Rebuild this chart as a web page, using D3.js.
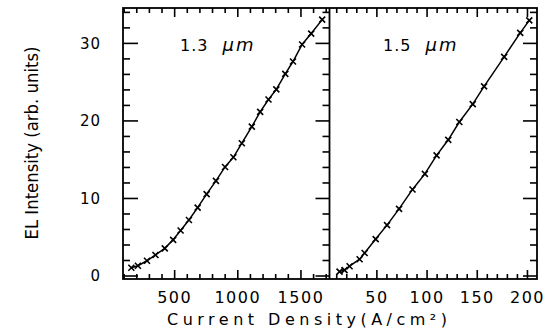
<!DOCTYPE html>
<html><head><meta charset="utf-8">
<script src="https://cdn.jsdelivr.net/npm/d3@7/dist/d3.min.js"></script>
<style>
html,body{margin:0;padding:0;background:#fff;}
svg{display:block;}
.tick text{font-family:"DejaVu Sans",sans-serif;fill:#000;}
</style></head>
<body>
<svg id="c" width="554" height="333"></svg>
<script>
// 1.3 µm panel: current density (A/cm²) vs EL intensity
const jL = [161,213,285,352,426,492,551,617,686,757,831,903,969,1036,1115,1181,1247,1309,1380,1441,1513,1585,1672];
const iL = [1.0,1.26,1.9,2.65,3.5,4.6,5.8,7.16,8.75,10.5,12.2,14.0,15.25,17.06,19.2,21.1,22.7,24.0,26.0,27.6,29.8,31.2,33.0];
// 1.5 µm panel
const jR = [13.3,18.3,23.3,33.3,38.3,49.3,60.6,72.6,86,98.3,110,121.6,132.6,146,157.3,177.3,193.3,202.3];
const iR = [0.5,0.7,1.2,2.1,2.9,4.7,6.5,8.6,11.1,13.1,15.5,17.5,19.8,22.1,24.4,28.2,31.3,32.9];

const xTicksL = [500,1000,1500];
const xTicksR = [50,100,150,200];
const yTicks = [0,10,20,30];
const panelNums = ["1.3","1.5"];
const panelUnit = "\u03bcm";
const yTitle = "EL Intensity (arb. units)";
const xTitle = "Current Density(A/cm\u00b2)";

(function(){
const svg = d3.select("#c");
const pTop = 8, pBot = 279, x0 = 123, xm = 329.5, x1 = 537;

const xL = d3.scaleLinear().domain([95,1730]).range([x0,xm]);
const xR = d3.scaleLinear().domain([3.3,210]).range([xm,x1]);
const y = d3.scaleLinear().domain([-0.45,34.5]).range([pBot,pTop]);

const minorY = d3.range(2,35,2).filter(v=>v%10!==0);
const minorXL = d3.range(100,1800,100).filter(v=>v%500!==0 && v>=95 && v<=1730);
const minorXR = d3.range(10,210,10).filter(v=>v%50!==0);
const fmt = d3.format("d");

function axisG(axis, tx, ty){
  const g = svg.append("g").attr("transform",`translate(${tx},${ty})`).call(axis);
  g.select(".domain").remove();
  g.selectAll("line").attr("stroke","#000").attr("stroke-width",1.6);
  return g;
}

// y axes
axisG(d3.axisLeft(y).tickValues(yTicks).tickSize(-15).tickPadding(22).tickFormat(fmt), x0, 0)
  .selectAll("text").attr("font-size",15).attr("letter-spacing","1px").attr("dy","0.36em");
axisG(d3.axisLeft(y).tickValues(minorY).tickSize(-7).tickFormat(""), x0, 0);
axisG(d3.axisRight(y).tickValues(yTicks).tickSize(-14).tickFormat(""), xm, 0);
axisG(d3.axisRight(y).tickValues(minorY).tickSize(-7).tickFormat(""), xm, 0);
axisG(d3.axisRight(y).tickValues(yTicks).tickSize(-14).tickFormat(""), x1, 0);
axisG(d3.axisRight(y).tickValues(minorY).tickSize(-7).tickFormat(""), x1, 0);

// x axes (bottom with labels, top without)
[[xL,xTicksL,minorXL],[xR,xTicksR,minorXR]].forEach(([sc,maj,mn])=>{
  axisG(d3.axisBottom(sc).tickValues(maj).tickSize(-9).tickPadding(13).tickFormat(fmt), 0, pBot)
    .selectAll("text").attr("font-size",16).attr("letter-spacing","1.5px");
  axisG(d3.axisBottom(sc).tickValues(mn).tickSize(-5).tickFormat(""), 0, pBot);
  axisG(d3.axisTop(sc).tickValues(maj).tickSize(-9).tickFormat(""), 0, pTop);
  axisG(d3.axisTop(sc).tickValues(mn).tickSize(-5).tickFormat(""), 0, pTop);
});

// frames
svg.append("rect").attr("x",x0).attr("y",pTop).attr("width",x1-x0).attr("height",pBot-pTop)
  .attr("fill","none").attr("stroke","#000").attr("stroke-width",1.8);
svg.append("line").attr("x1",xm).attr("x2",xm).attr("y1",pTop).attr("y2",pBot)
  .attr("stroke","#000").attr("stroke-width",1.8);

// data
function series(xs, ys, sc){
  const pts = xs.map((v,i)=>[sc(v), y(ys[i])]);
  svg.append("path").attr("d", d3.line()(pts)).attr("fill","none")
    .attr("stroke","#000").attr("stroke-width",1.5);
  const m = svg.append("g");
  pts.forEach(([px,py])=>{
    m.append("path").attr("d",`M${px-3},${py-3}L${px+3},${py+3}M${px-3},${py+3}L${px+3},${py-3}`)
      .attr("stroke","#000").attr("stroke-width",1.6).attr("fill","none");
  });
}
series(jL, iL, xL);
series(jR, iR, xR);

// panel labels
[[180,panelNums[0]],[383,panelNums[1]]].forEach(([px,num])=>{
  const t = svg.append("text").attr("x",px).attr("y",51)
    .attr("font-family","DejaVu Sans, sans-serif").attr("font-size",16);
  t.append("tspan").attr("letter-spacing","1px").text(num);
  t.append("tspan").attr("dx",14).attr("font-style","italic").attr("font-size",18)
    .attr("letter-spacing","2px").text(panelUnit);
});

// axis titles
svg.append("text").attr("x",307).attr("y",325).attr("text-anchor","middle")
  .attr("font-family","DejaVu Sans, sans-serif").attr("font-size",16)
  .attr("textLength",280).attr("lengthAdjust","spacing").text(xTitle);
svg.append("text").attr("transform","translate(38,143) rotate(-90)").attr("text-anchor","middle")
  .attr("font-family","'Liberation Sans Narrow','DejaVu Sans Condensed',sans-serif").attr("font-size",17)
  .attr("textLength",193).attr("lengthAdjust","spacingAndGlyphs").text(yTitle);
})();
</script>
</body></html>
